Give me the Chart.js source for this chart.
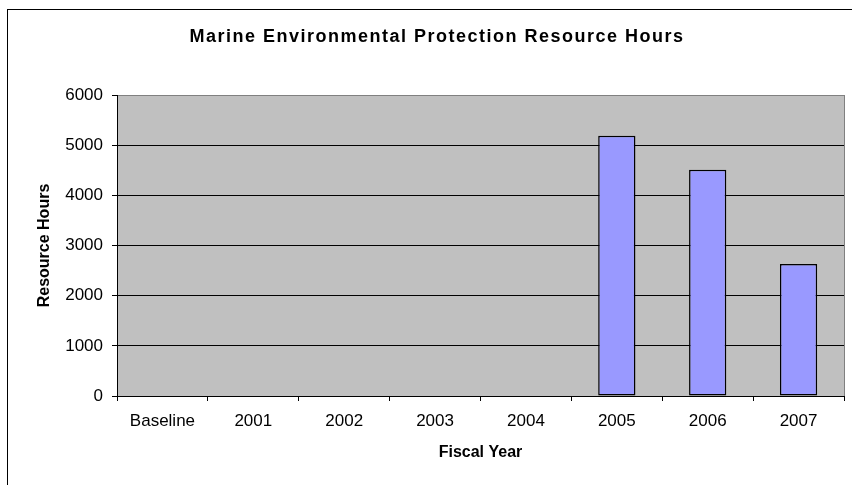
<!DOCTYPE html>
<html>
<head>
<meta charset="utf-8">
<script src="https://cdn.jsdelivr.net/npm/chart.js@4.4.1/dist/chart.umd.min.js"></script>
<style>
  html, body { margin: 0; padding: 0; background: #fff; }
  canvas { display: block; }
</style>
</head>
<body>
<canvas id="chart" width="852" height="485"></canvas>
<script>
// Chart text
const chartTitle = 'Marine Environmental Protection Resource Hours';
const xAxisTitle = 'Fiscal Year';
const yAxisTitle = 'Resource Hours';

// Fiscal years on the category axis
const categories = ['Baseline', '2001', '2002', '2003', '2004', '2005', '2006', '2007'];

// Resource hours per fiscal year (no figures reported before 2005)
const resourceHours = [null, null, null, null, null, 5190, 4510, 2630];

// Value axis ticks
const yTicks = [0, 1000, 2000, 3000, 4000, 5000, 6000];

const FONT = "'Liberation Sans', Arial, sans-serif";
const PLOT_BG = '#C0C0C0';
const PLOT_EDGE = '#808080';

// Outer frame, grey plot background and the grey right plot edge
const plotBackground = {
  id: 'plotBackground',
  beforeDraw(chart) {
    const { ctx, chartArea: a, width, height } = chart;
    ctx.save();
    ctx.fillStyle = '#ffffff';
    ctx.fillRect(0, 0, width, height);
    ctx.strokeStyle = '#000000';
    ctx.lineWidth = 1;
    ctx.strokeRect(7.5, 9.5, width + 40, height + 40);
    ctx.fillStyle = PLOT_BG;
    ctx.fillRect(a.left, a.top, a.right - a.left, a.bottom - a.top);
    ctx.strokeStyle = PLOT_EDGE;
    ctx.beginPath();
    ctx.moveTo(a.right + 0.5, a.top);
    ctx.lineTo(a.right + 0.5, a.bottom);
    ctx.stroke();
    ctx.restore();
  }
};

// Letter-spaced bold heading above the plot
const spacedTitle = {
  id: 'spacedTitle',
  afterDraw(chart) {
    const { ctx } = chart;
    ctx.save();
    ctx.font = 'bold 18px ' + FONT;
    if ('letterSpacing' in ctx) ctx.letterSpacing = '1.5px';
    ctx.fillStyle = '#000000';
    ctx.textBaseline = 'middle';
    ctx.textAlign = 'left';
    const w = ctx.measureText(chartTitle).width;
    ctx.fillText(chartTitle, 437 - w / 2, 37);
    if ('letterSpacing' in ctx) ctx.letterSpacing = '0px';
    ctx.restore();
  }
};

new Chart(document.getElementById('chart'), {
  type: 'bar',
  data: {
    labels: categories,
    datasets: [{
      label: yAxisTitle,
      data: resourceHours,
      backgroundColor: '#9999FF',
      borderColor: '#000000',
      borderWidth: 1.5,
      borderSkipped: false,
      categoryPercentage: 1,
      barPercentage: 0.41
    }]
  },
  options: {
    responsive: false,
    devicePixelRatio: 1,
    animation: false,
    layout: { padding: { left: 0, right: 8, top: 95, bottom: 0 } },
    plugins: {
      legend: { display: false },
      title: { display: false },
      tooltip: { enabled: false }
    },
    scales: {
      x: {
        afterFit(scale) { scale.height = 89; },
        grid: {
          offset: true,
          drawOnChartArea: false,
          drawTicks: true,
          tickLength: 5,
          color: '#000000',
          tickColor: '#000000'
        },
        border: { display: true, color: '#000000', width: 1 },
        ticks: {
          color: '#000000',
          font: { family: FONT, size: 17 },
          padding: 10,
          maxRotation: 0
        },
        title: {
          display: true,
          text: xAxisTitle,
          color: '#000000',
          font: { family: FONT, size: 16, weight: 'bold' },
          padding: { top: 0, bottom: 23 }
        }
      },
      y: {
        afterFit(scale) { scale.width = 117; },
        min: yTicks[0],
        max: yTicks[yTicks.length - 1],
        afterBuildTicks(scale) { scale.ticks = yTicks.map(v => ({ value: v })); },
        grid: {
          drawTicks: true,
          tickLength: 5,
          color: (c) => (c.tick && c.tick.value === yTicks[yTicks.length - 1]) ? PLOT_EDGE : '#000000',
          tickColor: '#000000'
        },
        border: { display: true, color: '#000000', width: 1 },
        ticks: {
          color: '#000000',
          font: { family: FONT, size: 17 },
          padding: 9,
          callback: (v) => String(v)
        },
        title: {
          display: true,
          text: yAxisTitle,
          color: '#000000',
          font: { family: FONT, size: 16, weight: 'bold' },
          padding: { top: 35, bottom: 0 }
        }
      }
    }
  },
  plugins: [plotBackground, spacedTitle]
});
</script>
</body>
</html>
